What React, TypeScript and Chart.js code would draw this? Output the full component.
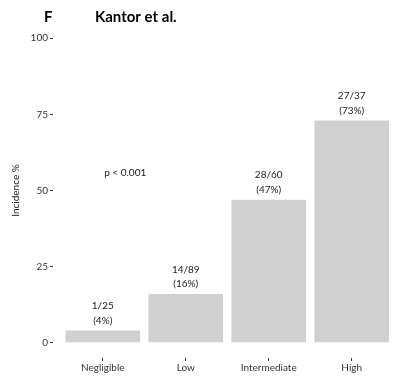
import React, { useEffect, useRef } from "react";
import { Chart, registerables } from "chart.js";

Chart.register(...registerables);

const categories = ["Negligible", "Low", "Intermediate", "High"];
const incidence = [4, 16, 47, 73];
const countLabels = ["1/25", "14/89", "28/60", "27/37"];
const pctLabels = ["(4%)", "(16%)", "(47%)", "(73%)"];
const yTicks = [0, 25, 50, 75, 100];
const tagText = "F";
const titleText = "Kantor et al.";
const pText = "p < 0.001";
const yTitle = "Incidence %";

const FONT = "Lato, 'DejaVu Sans', sans-serif";

export default function App() {
  const ref = useRef<HTMLCanvasElement | null>(null);

  useEffect(() => {
    document.documentElement.style.overflow = "hidden";
    document.body.style.overflow = "hidden";
    const canvas = ref.current;
    if (!canvas) return;

    const labelPlugin = {
      id: "annots",
      afterDatasetsDraw(chart: any) {
        const ctx = chart.ctx;
        const meta = chart.getDatasetMeta(0);
        ctx.save();
        ctx.fillStyle = "#1a1a1a";
        ctx.font = `10px ${FONT}`;
        ctx.textAlign = "center";
        ctx.textBaseline = "middle";
        meta.data.forEach((bar: any, i: number) => {
          ctx.fillText(countLabels[i], bar.x, bar.y - 24.5);
          ctx.fillText(pctLabels[i], bar.x, bar.y - 10);
        });
        const xs = chart.scales.x;
        const ys = chart.scales.y;
        ctx.fillText(pText, xs.getPixelForValue(1.27), ys.getPixelForValue(55.7));
        // title + tag
        ctx.font = `bold 15px ${FONT}`;
        ctx.textAlign = "left";
        ctx.fillStyle = "#000000";
        ctx.fillText(tagText, 44, 17);
        ctx.fillText(titleText, 95, 17);
        ctx.restore();
      },
    };

    const chart = new Chart(canvas, {
      type: "bar",
      data: {
        datasets: [
          {
            data: incidence.map((v, i) => ({ x: i + 1, y: v })),
            backgroundColor: "#cfd0cf",
            borderWidth: 0,
            barPercentage: 0.9,
            categoryPercentage: 1,
          },
        ],
      },
      options: {
        animation: false,
        responsive: false,
        maintainAspectRatio: false,
        layout: { padding: { top: 23, right: 0, bottom: 0, left: 0 } },
        plugins: {
          legend: { display: false },
          tooltip: { enabled: false },
          title: { display: false },
        },
        scales: {
          x: {
            type: "linear",
            offset: false,
            min: 0.4,
            max: 4.51,
            afterBuildTicks: (s: any) => {
              s.ticks = categories.map((_, i) => ({ value: i + 1 }));
            },
            afterFit: (s: any) => {
              s.height = 23;
            },
            ticks: {
              callback: (v: any) => categories[Math.round(Number(v)) - 1] ?? "",
              font: { family: FONT, size: 10 },
              color: "#333333",
              padding: 1,
              maxRotation: 0,
              autoSkip: false,
            },
            grid: {
              offset: false,
              drawOnChartArea: false,
              drawTicks: true,
              tickLength: 3,
              color: "#333333",
              lineWidth: 1,
            },
            border: { display: false },
          },
          y: {
            type: "linear",
            min: -5,
            max: 105,
            afterBuildTicks: (s: any) => {
              s.ticks = yTicks.map((v) => ({ value: v }));
            },
            afterFit: (s: any) => {
              s.width = 53;
            },
            ticks: {
              font: { family: FONT, size: 10 },
              color: "#333333",
              padding: 2,
            },
            grid: {
              drawOnChartArea: false,
              drawTicks: true,
              tickLength: 3,
              color: "#333333",
              lineWidth: 1,
            },
            border: { display: false },
            title: {
              display: true,
              text: yTitle,
              font: { family: FONT, size: 10 },
              color: "#1a1a1a",
              padding: { top: 10, bottom: 0 },
            },
          },
        },
      },
      plugins: [labelPlugin],
    });
    return () => chart.destroy();
  }, []);

  return (
    <div style={{ position: "fixed", left: 0, top: 0, width: 394, height: 381, background: "#ffffff" }}>
      <canvas ref={ref} width={394} height={381} style={{ display: "block", width: 394, height: 381 }} />
    </div>
  );
}
